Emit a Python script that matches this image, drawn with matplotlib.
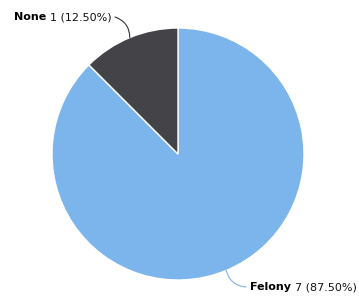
import matplotlib.pyplot as plt
import numpy as np

# Chart data.
categories = ['Felony', 'None']
counts = [7, 1]
colors = ['#7cb5ec', '#434348']

# Figure sized in pixels (359x302) with one axis spanning it.
fig = plt.figure(figsize=(3.59, 3.02), dpi=100)
ax = fig.add_axes([0, 0, 1, 1])

cx, cy, r = 178, 148, 126
wedges, _ = ax.pie(counts, colors=colors, startangle=90, counterclock=False,
                   center=(cx, cy), radius=r,
                   wedgeprops=dict(edgecolor='white', linewidth=1))

ax.set_xlim(0, 359)
ax.set_ylim(0, 302)
ax.set_aspect('equal')
ax.axis('off')

total = sum(counts)
# Label anchor points (pixels) and connector curvature for each slice.
label_pos = {'None': (112, 285, 'right'), 'Felony': (250, 15, 'left')}
line_colors = {'None': '#333333', 'Felony': '#7cb5ec'}
rads = {'None': -0.35, 'Felony': -0.35}
fs = 8

for w, name, n in zip(wedges, categories, counts):
    mid = np.deg2rad((w.theta1 + w.theta2) / 2)
    px, py = cx + r * np.cos(mid), cy + r * np.sin(mid)
    lx, ly, ha = label_pos[name]
    pct = f'{n} ({100 * n / total:.2f}%)'
    if ha == 'left':
        t = ax.text(lx, ly, name, fontsize=fs, fontweight='bold', ha='left', va='center')
        fig.canvas.draw()
        bb = t.get_window_extent().transformed(ax.transData.inverted())
        ax.text(bb.x1 + 4, ly, pct, fontsize=fs, ha='left', va='center', color='#111111')
        start = (lx - 4, ly)
    else:
        t = ax.text(lx, ly, pct, fontsize=fs, ha='right', va='center', color='#111111')
        fig.canvas.draw()
        bb = t.get_window_extent().transformed(ax.transData.inverted())
        ax.text(bb.x0 - 4, ly, name, fontsize=fs, fontweight='bold', ha='right', va='center')
        start = (lx + 3, ly)
    ax.annotate('', xy=(px, py), xytext=start,
                arrowprops=dict(arrowstyle='-', color=line_colors[name], lw=0.8,
                                connectionstyle=f'arc3,rad={rads[name]}',
                                shrinkA=0, shrinkB=0))

plt.savefig('out.png', dpi=100)
plt.close(fig)
